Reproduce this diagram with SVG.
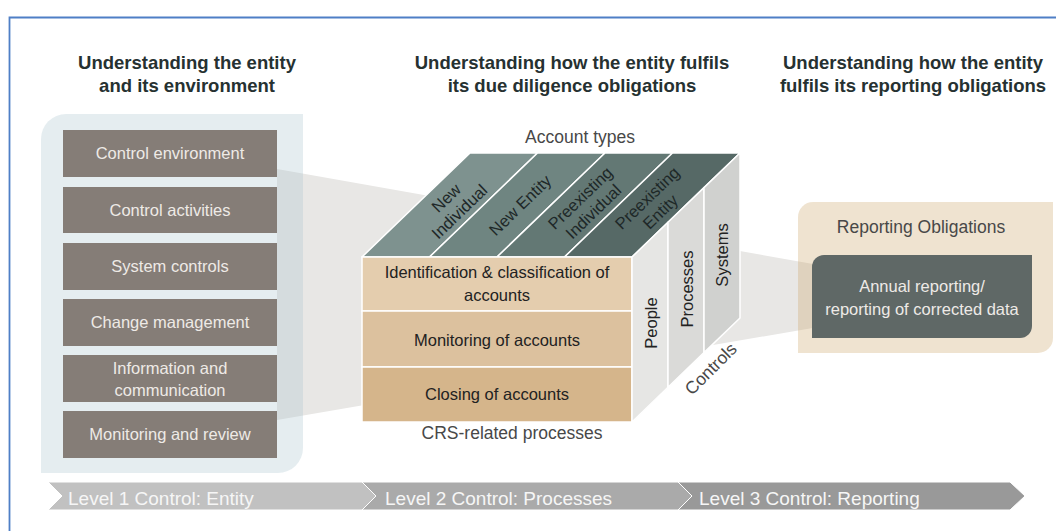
<svg xmlns="http://www.w3.org/2000/svg" width="1056" height="531" viewBox="0 0 1056 531">
<style>
text{font-family:"Liberation Sans",Arial,sans-serif}
.h{font-size:18.5px;font-weight:bold;fill:#263131;text-anchor:middle}
.box{fill:#857d77}
.bt{font-size:16.5px;fill:#eeeae6;text-anchor:middle}
.lab{font-size:17.5px;fill:#484848;text-anchor:middle}
.roof{stroke:#fff;stroke-width:1.5;stroke-linejoin:round}
.rt{font-size:16.5px;fill:#1e2828;text-anchor:middle}
.row{stroke:#fff;stroke-width:1.5}
.ft{font-size:16.5px;fill:#222;text-anchor:middle}
.side{stroke:#fff;stroke-width:1.5;stroke-linejoin:round}
.chev{stroke:#fff;stroke-width:1}
.ct{font-size:19px;fill:#f6f6f6}
</style>
<rect width="1056" height="531" fill="#fff"/>
<path d="M9.5,531 V17.5 H1056" fill="none" stroke="#4f7fc6" stroke-width="1.8"/>

<g id="headings">
<text class="h" x="187" y="69">Understanding the entity</text>
<text class="h" x="187" y="92">and its environment</text>
<text class="h" x="572" y="69">Understanding how the entity fulfils</text>
<text class="h" x="572" y="92">its due diligence obligations</text>
<text class="h" x="913" y="69">Understanding how the entity</text>
<text class="h" x="913" y="92">fulfils its reporting obligations</text>
</g>

<g id="funnel">
<polygon points="277,169 830,267 830,325 277,420" fill="#e8e7e5"/>
</g>

<g id="entity-panel">
<path d="M66,114 H303 V448 A25,25 0 0 1 278,473 H41 V139 A25,25 0 0 1 66,114 Z" fill="rgb(168,195,205)" fill-opacity="0.3"/>
<g id="control-environment"><rect class="box" x="63" y="130" width="214" height="47"/><text class="bt" x="170" y="159">Control environment</text></g>
<g id="control-activities"><rect class="box" x="63" y="187" width="214" height="46"/><text class="bt" x="170" y="216">Control activities</text></g>
<g id="system-controls"><rect class="box" x="63" y="243" width="214" height="47"/><text class="bt" x="170" y="272">System controls</text></g>
<g id="change-management"><rect class="box" x="63" y="299" width="214" height="47"/><text class="bt" x="170" y="328">Change management</text></g>
<g id="information-communication"><rect class="box" x="63" y="355" width="214" height="47"/><text class="bt" x="170" y="374">Information and</text><text class="bt" x="170" y="396">communication</text></g>
<g id="monitoring-review"><rect class="box" x="63" y="411" width="214" height="47"/><text class="bt" x="170" y="440">Monitoring and review</text></g>
</g>

<g id="cube">
<text class="lab" x="580" y="143">Account types</text>
<g id="account-types">
<polygon class="roof" points="362,257 429.5,257 537.5,153 470,153" fill="#7e928f"/>
<polygon class="roof" points="429.5,257 497,257 605,153 537.5,153" fill="#6f8581"/>
<polygon class="roof" points="497,257 564.5,257 672.5,153 605,153" fill="#637874"/>
<polygon class="roof" points="564.5,257 632,257 740,153 672.5,153" fill="#566966"/>
<text class="rt" transform="translate(453,205) rotate(-44)"><tspan x="0" y="-4">New</tspan><tspan x="0" y="15">Individual</tspan></text>
<text class="rt" transform="translate(520,205) rotate(-44)"><tspan x="0" y="6">New Entity</tspan></text>
<text class="rt" transform="translate(587,205) rotate(-44)"><tspan x="0" y="-4">Preexisting</tspan><tspan x="0" y="15">Individual</tspan></text>
<text class="rt" transform="translate(654,205) rotate(-44)"><tspan x="0" y="-4">Preexisting</tspan><tspan x="0" y="15">Entity</tspan></text>
</g>
<g id="processes">
<rect class="row" x="362" y="257" width="270" height="54" fill="#e4cdae"/>
<rect class="row" x="362" y="311" width="270" height="56" fill="#dcc19e"/>
<rect class="row" x="362" y="367" width="270" height="55" fill="#d5b58b"/>
<text class="ft" x="497" y="278">Identification &amp; classification of</text>
<text class="ft" x="497" y="301">accounts</text>
<text class="ft" x="497" y="346">Monitoring of accounts</text>
<text class="ft" x="497" y="400">Closing of accounts</text>
</g>
<g id="controls">
<polygon class="side" points="632,257 668,222.3 668,387.3 632,422" fill="#e6e6e4"/>
<polygon class="side" points="668,222.3 704,187.6 704,352.6 668,387.3" fill="#dadad8"/>
<polygon class="side" points="704,187.6 740,153 740,318 704,352.6" fill="#d0d1cf"/>
<text class="ft" transform="translate(657,323) rotate(-90)">People</text>
<text class="ft" transform="translate(693,289) rotate(-90)">Processes</text>
<text class="ft" transform="translate(728,255) rotate(-90)">Systems</text>
<text class="lab" transform="translate(715,373) rotate(-45)">Controls</text>
</g>
<text class="lab" x="512" y="439">CRS-related processes</text>
</g>

<g id="reporting-panel">
<path d="M813,202 H1053 V338 A15,15 0 0 1 1038,353 H798 V217 A15,15 0 0 1 813,202 Z" fill="rgb(202,162,99)" fill-opacity="0.3"/>
<text class="lab" x="921" y="233">Reporting Obligations</text>
<g id="annual-reporting">
<path d="M824,255 H1032 V326 A12,12 0 0 1 1020,338 H812 V267 A12,12 0 0 1 824,255 Z" fill="#5f6866"/>
<text class="bt" x="922" y="292">Annual reporting/</text>
<text class="bt" x="922" y="315">reporting of corrected data</text>
</g>
</g>

<g id="levels">
<polygon class="chev" points="48,482 362,482 376,496 362,510 48,510 62,496" fill="#c1c1c1"/>
<polygon class="chev" points="362,482 678,482 692,496 678,510 362,510 376,496" fill="#aaaaaa"/>
<polygon class="chev" points="678,482 1010,482 1025,496 1010,510 678,510 692,496" fill="#999999"/>
<text class="ct" x="68" y="505">Level 1 Control: Entity</text>
<text class="ct" x="385" y="505">Level 2 Control: Processes</text>
<text class="ct" x="699" y="505">Level 3 Control: Reporting</text>
</g>
</svg>
